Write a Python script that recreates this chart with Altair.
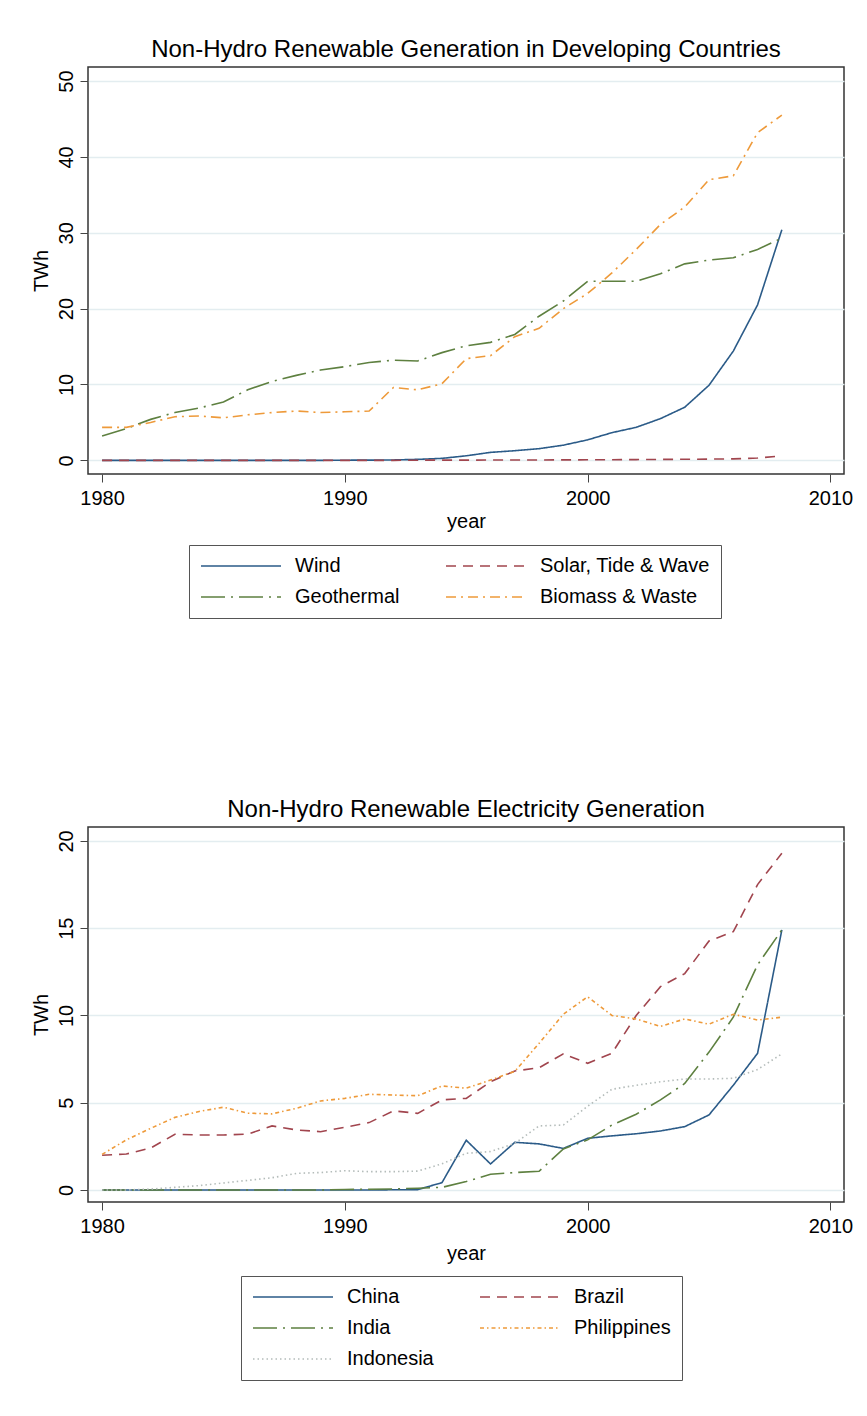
import altair as alt
import pandas as pd

FONT = "Liberation Sans"

years = list(range(1980, 2009))

# ---- Top chart: Non-Hydro Renewable Generation in Developing Countries (TWh)
wind = [0, 0, 0, 0, 0, 0, 0, 0, 0, 0, 0.02, 0.03, 0.05, 0.13, 0.26, 0.6, 1.05,
        1.27, 1.54, 2.0, 2.7, 3.65, 4.35, 5.5, 7.0, 9.9, 14.4, 20.5, 30.4]
solar = [0, 0, 0, 0, 0, 0, 0, 0, 0, 0, 0, 0, 0, 0.02, 0.03, 0.03, 0.04, 0.05,
         0.05, 0.06, 0.07, 0.08, 0.1, 0.12, 0.14, 0.16, 0.2, 0.3, 0.6]
geothermal = [3.2, 4.2, 5.4, 6.3, 6.9, 7.7, 9.3, 10.4, 11.2, 11.9, 12.35, 12.9,
              13.2, 13.1, 14.2, 15.1, 15.55, 16.6, 19.0, 21.0, 23.6, 23.6, 23.6,
              24.6, 25.9, 26.4, 26.7, 27.8, 29.3]
biomass = [4.35, 4.35, 5.0, 5.75, 5.85, 5.6, 6.0, 6.3, 6.5, 6.3, 6.4, 6.5, 9.6,
           9.3, 10.1, 13.4, 13.8, 16.3, 17.4, 20.0, 22.0, 24.7, 27.8, 31.1, 33.4,
           37.0, 37.5, 43.2, 45.5]

# legend is filled column by column: (Wind, Geothermal) | (Solar, Biomass)
top_names = ["Wind", "Geothermal", "Solar, Tide & Wave", "Biomass & Waste"]
top_series = [wind, geothermal, solar, biomass]
top_colors = ["#2b5b88", "#5e8040", "#a1454e", "#ee9a3a"]
top_dashes = [[1, 0], [24, 6, 2, 6], [10, 7], [10, 5, 2, 5]]
top_title = "Non-Hydro Renewable Generation in Developing Countries"

# ---- Bottom chart: Non-Hydro Renewable Electricity Generation (TWh)
china = [0, 0, 0, 0, 0, 0, 0, 0, 0, 0, 0, 0, 0.01, 0.02, 0.42, 2.85, 1.49, 2.73,
         2.64, 2.38, 2.96, 3.1, 3.22, 3.38, 3.63, 4.3, 6.0, 7.83, 14.9]
brazil = [1.99, 2.06, 2.4, 3.19, 3.15, 3.15, 3.2, 3.67, 3.44, 3.34, 3.59, 3.86,
          4.53, 4.39, 5.16, 5.25, 6.2, 6.82, 7.0, 7.8, 7.26, 7.83, 10.0, 11.65,
          12.4, 14.27, 14.8, 17.5, 19.3]
india = [0, 0, 0, 0, 0, 0, 0, 0, 0, 0, 0.03, 0.04, 0.06, 0.1, 0.15, 0.48, 0.9,
         1.0, 1.07, 2.35, 2.87, 3.72, 4.34, 5.16, 6.1, 7.9, 9.9, 12.9, 14.9]
philippines = [2.04, 2.87, 3.53, 4.16, 4.5, 4.74, 4.4, 4.36, 4.68, 5.1, 5.25,
               5.48, 5.44, 5.4, 5.96, 5.83, 6.3, 6.8, 8.4, 10.07, 11.07, 10.0,
               9.8, 9.37, 9.8, 9.5, 10.07, 9.74, 9.9]
indonesia = [0, 0, 0.05, 0.15, 0.25, 0.4, 0.55, 0.7, 0.95, 1.0, 1.1, 1.05, 1.05,
             1.08, 1.5, 2.1, 2.2, 2.67, 3.67, 3.72, 4.8, 5.77, 6.0, 6.2, 6.36,
             6.36, 6.4, 6.9, 7.8]

# legend columns: (China, India, Indonesia) | (Brazil, Philippines)
bot_names = ["China", "India", "Indonesia", "Brazil", "Philippines"]
bot_series = [china, india, indonesia, brazil, philippines]
bot_colors = ["#2b5b88", "#5e8040", "#b4bcba", "#a1454e", "#ee9a3a"]
bot_dashes = [[1, 0], [24, 6, 2, 6], [1.5, 3], [10, 7], [4, 3, 1.5, 3]]
bot_title = "Non-Hydro Renewable Electricity Generation"

x_ticks = [1980, 1990, 2000, 2010]
top_y_ticks = [0, 10, 20, 30, 40, 50]
bot_y_ticks = [0, 5, 10, 15, 20]


def long_df(names, series, field):
    rows = []
    for name, vals in zip(names, series):
        for yr, v in zip(years, vals):
            rows.append({"year": yr, field: name, "TWh": v})
    return pd.DataFrame(rows)


def panel(df, field, names, colors, dashes, title, ydomain, yticks, height,
          legx, legy, xtitle_y):
    legend = alt.Legend(
        title=None, orient="none", legendX=legx, legendY=legy, columns=2,
        symbolType="stroke", symbolSize=6400, symbolStrokeWidth=1.6,
        labelFont=FONT, labelFontSize=20, labelColor="black", labelOffset=13,
        labelLimit=400, columnPadding=45, rowPadding=11, clipHeight=20,
        padding=11, strokeColor="#555555",
    )
    return alt.Chart(df).mark_line(strokeWidth=1.6).encode(
        x=alt.X("year:Q",
                scale=alt.Scale(domain=[1979.42, 2010.56], nice=False, zero=False),
                axis=alt.Axis(values=x_ticks, format="d", title="year", grid=False,
                              domain=False, tickSize=8, labelPadding=22,
                              labelBaseline="alphabetic", labelFlush=False,
                              labelOverlap=False, titleX=378, titleY=xtitle_y,
                              titleAlign="center", titleBaseline="alphabetic")),
        y=alt.Y("TWh:Q",
                scale=alt.Scale(domain=ydomain, nice=False, zero=False),
                axis=alt.Axis(values=yticks, title="TWh", grid=True, domain=False,
                              tickSize=8, labelAngle=270, labelAlign="center",
                              labelBaseline="alphabetic", labelPadding=8,
                              labelOverlap=False, titleAngle=270, titleX=-41,
                              titleY=height / 2, titleAlign="center",
                              titleBaseline="alphabetic")),
        color=alt.Color(f"{field}:N", scale=alt.Scale(domain=names, range=colors),
                        legend=legend),
        strokeDash=alt.StrokeDash(f"{field}:N",
                                  scale=alt.Scale(domain=names, range=dashes),
                                  legend=legend),
    ).properties(width=756, height=height, title=title)


top = panel(long_df(top_names, top_series, "source"),
            "source", top_names, top_colors, top_dashes, top_title,
            [-1.8, 51.85], top_y_ticks, 407, 101, 478, 53)
bottom = panel(long_df(bot_names, bot_series, "country"),
               "country", bot_names, bot_colors, bot_dashes, bot_title,
               [-0.69, 20.8], bot_y_ticks, 375, 153, 449, 57)

chart = alt.vconcat(top, bottom, spacing=353, bounds="flush").resolve_scale(
    color="independent", strokeDash="independent", x="independent",
    y="independent"
).resolve_legend(
    color="independent", strokeDash="independent"
).properties(
    padding={"left": 30, "top": 37, "right": 0, "bottom": 0},
    background="white",
).configure_view(
    stroke="#333333", strokeWidth=1.5
).configure_axis(
    labelFont=FONT, titleFont=FONT, labelFontSize=20, titleFontSize=20,
    labelColor="black", titleColor="black", tickColor="#444444",
    titleFontWeight="normal", gridColor="#e3edf0", gridWidth=1.5,
).configure_title(
    font=FONT, fontSize=24, fontWeight="normal", color="black",
    baseline="alphabetic", offset=5, anchor="middle", frame="group",
)

chart.save("out.html", embed_options={"renderer": "svg", "actions": False})
